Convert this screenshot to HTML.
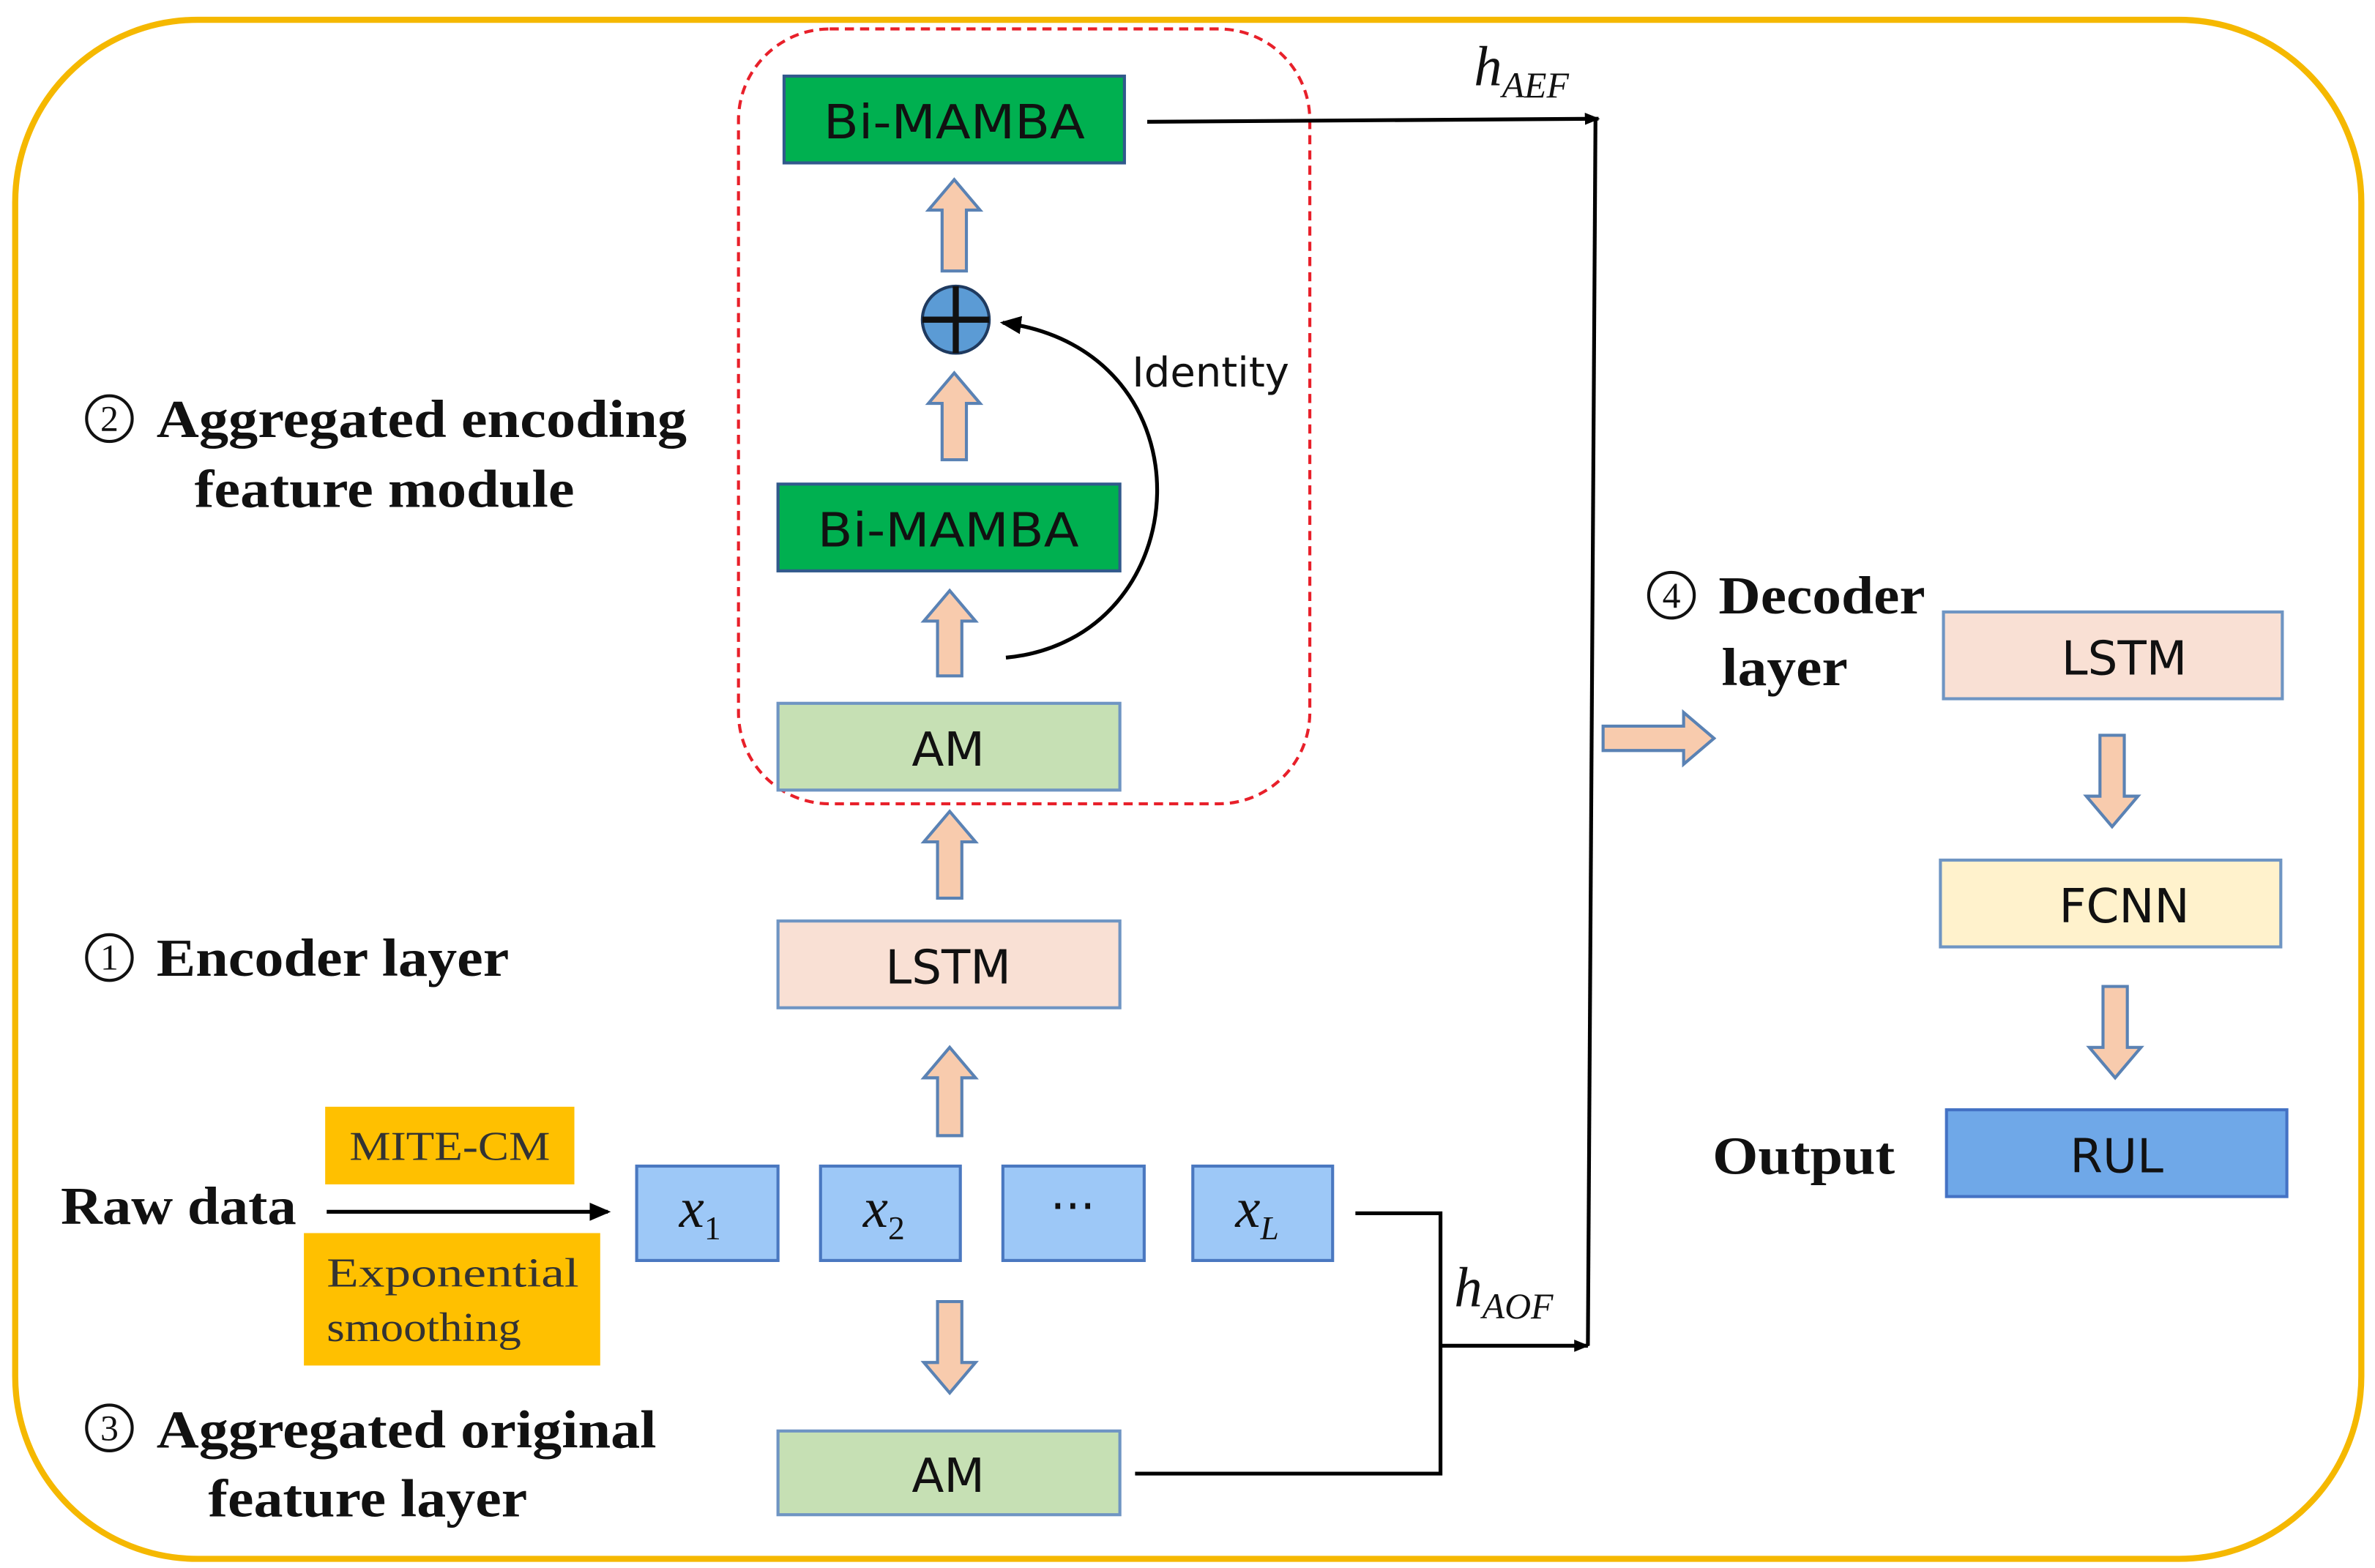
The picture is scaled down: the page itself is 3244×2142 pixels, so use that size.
<!DOCTYPE html>
<html><head><meta charset="utf-8"><style>html,body{margin:0;padding:0;background:#fff}svg{display:block}</style></head>
<body>
<svg width="3244" height="2142" viewBox="0 0 1563 1030" preserveAspectRatio="none" xmlns="http://www.w3.org/2000/svg">
<defs>
<marker id="ah" markerWidth="10" markerHeight="10" refX="9" refY="5" orient="auto" markerUnits="userSpaceOnUse"><path d="M0,1 L10,5 L0,9 Z" fill="#000"/></marker>
<marker id="ah2" markerWidth="14" markerHeight="12" refX="12" refY="6" orient="auto" markerUnits="userSpaceOnUse"><path d="M0,0 L14,6 L0,12 Z" fill="#000"/></marker>
</defs>
<rect x="10" y="13" width="1544" height="1011" rx="120" fill="#fff" stroke="#f5b800" stroke-width="4"/>
<rect x="486" y="19" width="376" height="509" rx="60" fill="none" stroke="#e8202a" stroke-width="2" stroke-dasharray="6,4"/>
<g font-family="'DejaVu Sans','Liberation Sans',sans-serif" font-size="31" text-anchor="middle" fill="#111">
<rect x="516" y="50" width="224" height="57" fill="#00b050" stroke="#31598c" stroke-width="2"/><text x="628" y="91" textLength="172" lengthAdjust="spacingAndGlyphs">Bi-MAMBA</text>
<rect x="512" y="318" width="225" height="57" fill="#00b050" stroke="#31598c" stroke-width="2"/><text x="624" y="359" textLength="172" lengthAdjust="spacingAndGlyphs">Bi-MAMBA</text>
<rect x="512" y="462" width="225" height="57" fill="#c6e0b4" stroke="#6f95c3" stroke-width="2"/><text x="624" y="503">AM</text>
<rect x="512" y="605" width="225" height="57" fill="#f9e0d4" stroke="#6f95c3" stroke-width="2"/><text x="624" y="646">LSTM</text>
<rect x="512" y="940" width="225" height="55" fill="#c6e0b4" stroke="#6f95c3" stroke-width="2"/><text x="624" y="980">AM</text>
<rect x="1279" y="402" width="223" height="57" fill="#f9e0d4" stroke="#6f95c3" stroke-width="2"/><text x="1398" y="443">LSTM</text>
<rect x="1277" y="565" width="224" height="57" fill="#fff2cc" stroke="#6f95c3" stroke-width="2"/><text x="1398" y="606">FCNN</text>
<rect x="1281" y="729" width="224" height="57" fill="#6fa8e8" stroke="#4472c4" stroke-width="2"/><text x="1393" y="770">RUL</text>
<g fill="#9dc8f7" stroke="#4a78c0" stroke-width="2">
<rect x="419" y="766" width="93" height="62"/><rect x="540" y="766" width="92" height="62"/><rect x="660" y="766" width="93" height="62"/><rect x="785" y="766" width="92" height="62"/></g>
<text x="706" y="803">···</text>
<text x="745" y="254" font-size="27" text-anchor="start">Identity</text>
</g>
<g font-family="'Liberation Serif',serif" font-style="italic" font-size="37" fill="#111">
<text x="447" y="806">x<tspan font-size="22" dy="8" font-style="normal">1</tspan></text>
<text x="568" y="806">x<tspan font-size="22" dy="8" font-style="normal">2</tspan></text>
<text x="813" y="806">x<tspan font-size="22" dy="8">L</tspan></text>
<text x="970" y="56">h<tspan font-size="24" dy="8">AEF</tspan></text>
<text x="957" y="858">h<tspan font-size="24" dy="8">AOF</tspan></text>
</g>
<circle cx="629" cy="210" r="22" fill="#5b9bd5" stroke="#1f3a5f" stroke-width="2"/>
<path d="M629,188 V232 M607,210 H651" stroke="#111" stroke-width="4"/>
<g fill="#f8cbad" stroke="#5a82b4" stroke-width="2">
<path d="M628,118 l17,20 h-9 v40 h-16 v-40 h-9 z"/>
<path d="M628,245 l17,20 h-9 v37 h-16 v-37 h-9 z"/>
<path d="M625,388 l17,20 h-9 v36 h-16 v-36 h-9 z"/>
<path d="M625,533 l17,20 h-9 v37 h-16 v-37 h-9 z"/>
<path d="M625,688 l17,20 h-9 v38 h-16 v-38 h-9 z"/>
<path d="M625,915 l17,-20 h-9 v-40 h-16 v40 h-9 z"/>
<path d="M1390,543 l17,-20 h-9 v-40 h-16 v40 h-9 z"/>
<path d="M1392,708 l17,-20 h-9 v-40 h-16 v40 h-9 z"/>
<path d="M1128,485 l-20,-17 v9 h-53 v16 h53 v9 z"/>
</g>
<rect x="214" y="727" width="164" height="51" fill="#ffc000"/>
<rect x="200" y="810" width="195" height="87" fill="#ffc000"/>
<g font-family="'Liberation Serif',serif" font-size="27" fill="#333">
<text x="296" y="762" text-anchor="middle" textLength="132" lengthAdjust="spacingAndGlyphs">MITE-CM</text>
<text x="215" y="845" textLength="166" lengthAdjust="spacingAndGlyphs">Exponential</text>
<text x="215" y="881" textLength="128" lengthAdjust="spacingAndGlyphs">smoothing</text>
</g>
<g fill="none" stroke="#000" stroke-width="2.5">
<path d="M215,796 H400" marker-end="url(#ah2)"/>
<path d="M892,797 H948 V968 H747"/>
<path d="M948,884 H1045" marker-end="url(#ah)"/>
<path d="M1045,884 L1050,78"/>
<path d="M755,80 L1052,78" marker-end="url(#ah)"/>
<path d="M662,432 C790,420 800,230 660,212" marker-end="url(#ah2)"/>
</g>
<g fill="none" stroke="#111" stroke-width="2">
<circle cx="72" cy="275" r="15"/><circle cx="72" cy="629" r="15"/><circle cx="72" cy="938" r="15"/><circle cx="1100" cy="391" r="15"/>
</g>
<g font-family="'Liberation Serif',serif" font-size="24" fill="#111" text-anchor="middle">
<text x="72" y="283">2</text><text x="72" y="637">1</text><text x="72" y="946">3</text><text x="1100" y="399">4</text>
</g>
<g font-family="'Liberation Serif',serif" font-weight="bold" font-size="35" fill="#111">
<text x="103" y="287" textLength="349" lengthAdjust="spacingAndGlyphs">Aggregated encoding</text>
<text x="128" y="333" textLength="250" lengthAdjust="spacingAndGlyphs">feature module</text>
<text x="103" y="641" textLength="232" lengthAdjust="spacingAndGlyphs">Encoder layer</text>
<text x="103" y="951" textLength="329" lengthAdjust="spacingAndGlyphs">Aggregated original</text>
<text x="137" y="996" textLength="210" lengthAdjust="spacingAndGlyphs">feature layer</text>
<text x="40" y="804" textLength="155" lengthAdjust="spacingAndGlyphs">Raw data</text>
<text x="1131" y="403" textLength="136" lengthAdjust="spacingAndGlyphs">Decoder</text>
<text x="1133" y="450" textLength="83" lengthAdjust="spacingAndGlyphs">layer</text>
<text x="1127" y="771" textLength="120" lengthAdjust="spacingAndGlyphs">Output</text>
</g>
</svg>
</body></html>
